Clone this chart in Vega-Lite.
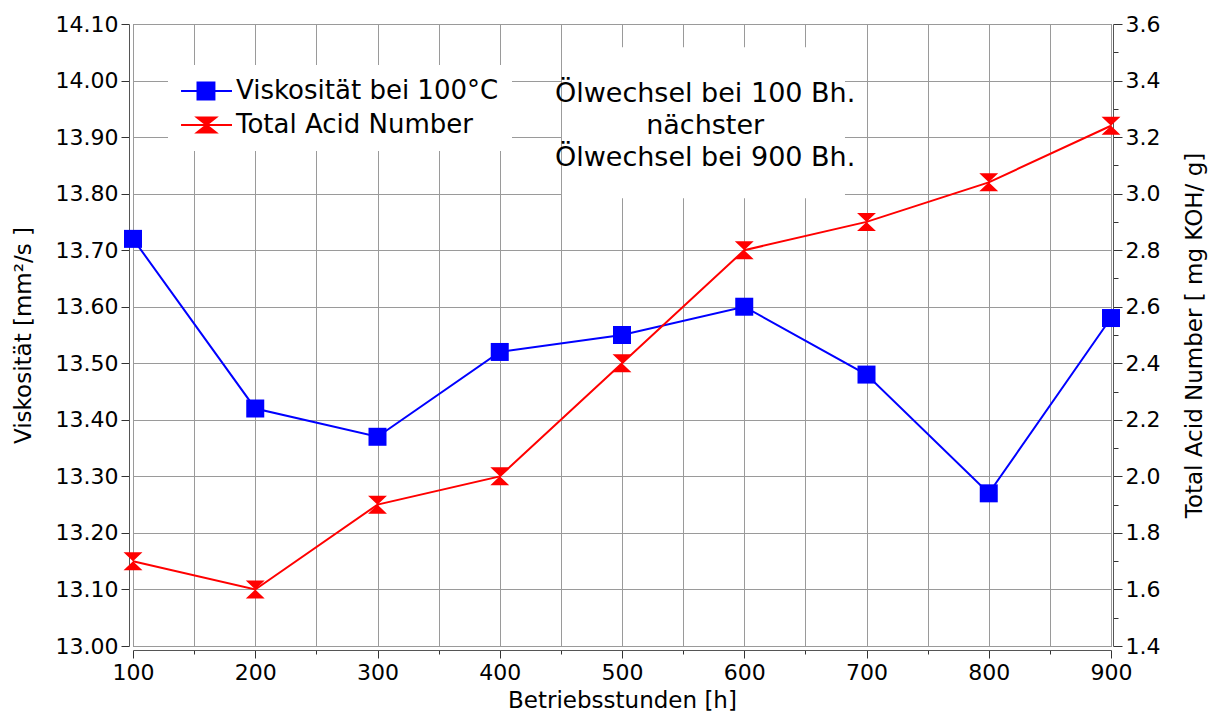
{
  "$schema": "https://vega.github.io/schema/vega-lite/v6.json",
  "width": 978,
  "height": 622,
  "autosize": {"type": "none"},
  "padding": {"left": 133, "top": 24, "right": 104, "bottom": 73},
  "background": "white",
  "config": {
    "font": "DejaVu Sans",
    "view": {"stroke": "#666666", "strokeWidth": 1},
    "axis": {
      "labelFont": "DejaVu Sans", "labelFontSize": 22, "labelColor": "#000000",
      "titleFont": "DejaVu Sans", "titleFontSize": 23, "titleFontWeight": "normal", "titleColor": "#000000",
      "domainColor": "#555555", "tickColor": "#333333", "gridColor": "#9a9a9a", "gridWidth": 1
    }
  },
  "datasets": {
    "oil": [
      {"h": 100, "series": "Viskosität bei 100°C", "value": 13.72},
      {"h": 200, "series": "Viskosität bei 100°C", "value": 13.42},
      {"h": 300, "series": "Viskosität bei 100°C", "value": 13.37},
      {"h": 400, "series": "Viskosität bei 100°C", "value": 13.52},
      {"h": 500, "series": "Viskosität bei 100°C", "value": 13.55},
      {"h": 600, "series": "Viskosität bei 100°C", "value": 13.60},
      {"h": 700, "series": "Viskosität bei 100°C", "value": 13.48},
      {"h": 800, "series": "Viskosität bei 100°C", "value": 13.27},
      {"h": 900, "series": "Viskosität bei 100°C", "value": 13.58},
      {"h": 100, "series": "Total Acid Number", "value": 1.70},
      {"h": 200, "series": "Total Acid Number", "value": 1.60},
      {"h": 300, "series": "Total Acid Number", "value": 1.90},
      {"h": 400, "series": "Total Acid Number", "value": 2.00},
      {"h": 500, "series": "Total Acid Number", "value": 2.40},
      {"h": 600, "series": "Total Acid Number", "value": 2.80},
      {"h": 700, "series": "Total Acid Number", "value": 2.90},
      {"h": 800, "series": "Total Acid Number", "value": 3.04},
      {"h": 900, "series": "Total Acid Number", "value": 3.24}
    ],
    "note": [
      {"label": ["Ölwechsel bei 100 Bh.", "nächster", "Ölwechsel bei 900 Bh."]}
    ]
  },
  "data": {"name": "oil"},
  "layer": [
    {
      "layer": [
        {
          "data": {"name": "note"},
          "mark": {"type": "rect", "fill": "#ffffff", "strokeWidth": 0},
          "encoding": {
            "x": {"datum": 450.9, "type": "quantitative", "scale": {"domain": [100, 900], "nice": false, "zero": false}},
            "x2": {"datum": 682.4},
            "y": {"datum": 14.059, "type": "quantitative", "scale": {"domain": [13.0, 14.1], "nice": false, "zero": false}},
            "y2": {"datum": 13.792}
          }
        },
        {
          "data": {"name": "note"},
          "mark": {
            "type": "text", "font": "DejaVu Sans", "fontSize": 27, "lineHeight": 32,
            "align": "center", "baseline": "middle", "fill": "#000000"
          },
          "encoding": {
            "x": {"datum": 568, "type": "quantitative"},
            "y": {"datum": 13.977, "type": "quantitative"},
            "text": {"field": "label"}
          }
        },
        {
          "transform": [{"filter": "datum.series === 'Viskosität bei 100°C'"}],
          "encoding": {
            "x": {
              "field": "h", "type": "quantitative",
              "scale": {"domain": [100, 900], "nice": false, "zero": false},
              "axis": {
                "title": "Betriebsstunden [h]",
                "values": [100, 150, 200, 250, 300, 350, 400, 450, 500, 550, 600, 650, 700, 750, 800, 850, 900],
                "labelExpr": "datum.value % 100 == 0 ? datum.label : ''",
                "grid": true, "offset": 4,
                "tickSize": {"condition": {"test": "datum.value % 100 == 0", "value": 8}, "value": 4},
                "labelPadding": 4, "titlePadding": 6, "labelFlush": false, "labelOverlap": false
              }
            },
            "y": {
              "field": "value", "type": "quantitative",
              "scale": {"domain": [13.0, 14.1], "nice": false, "zero": false},
              "axis": {
                "title": "Viskosität [mm²/s ]",
                "values": [13.0, 13.05, 13.1, 13.15, 13.2, 13.25, 13.3, 13.35, 13.4, 13.45, 13.5, 13.55, 13.6, 13.65, 13.7, 13.75, 13.8, 13.85, 13.9, 13.95, 14.0, 14.05, 14.1],
                "labelExpr": "round(datum.value*100) % 10 == 0 ? format(datum.value, '.2f') : ''",
                "grid": true,
                "gridOpacity": {"condition": {"test": "round(datum.value*100) % 10 == 0", "value": 1}, "value": 0},
                "tickSize": {"condition": {"test": "round(datum.value*100) % 10 == 0", "value": 8}, "value": 5},
                "offset": 4, "labelPadding": 3, "titlePadding": 20, "labelOverlap": false, "labelFlush": false
              }
            },
            "color": {
              "field": "series", "type": "nominal",
              "scale": {"domain": ["Viskosität bei 100°C", "Total Acid Number"], "range": ["#0000ff", "#ff0000"]},
              "legend": {
                "title": null, "orient": "none", "legendX": 35, "legendY": 41,
                "fillColor": "#ffffff", "padding": 13, "strokeColor": null,
                "labelFont": "DejaVu Sans", "labelFontSize": 26, "labelColor": "#000000", "labelLimit": 0,
                "symbolSize": 324, "symbolStrokeWidth": 2, "labelOffset": 29, "rowPadding": 8,
                "symbolType": "M-1.44,0 H4.22 M0.39,-0.94 H2.27 V0.94 H0.39 Z",
                "encode": {
                  "symbols": {
                    "update": {
                      "shape": [
                        {"test": "datum.value === 'Viskosität bei 100°C'", "value": "M-1.44,0 H4.22 M0.39,-0.94 H2.27 V0.94 H0.39 Z"},
                        {"value": "M-1.44,0 H4.22 M0.34,-0.83 H2.44 L1.39,0 L2.44,0.83 H0.34 L1.39,0 Z"}
                      ],
                      "fill": [{"test": "datum.value === 'Viskosität bei 100°C'", "value": "#0000ff"}, {"value": "#ff0000"}],
                      "stroke": [{"test": "datum.value === 'Viskosität bei 100°C'", "value": "#0000ff"}, {"value": "#ff0000"}],
                      "strokeWidth": {"value": 2},
                      "opacity": {"value": 1},
                      "fillOpacity": {"value": 1},
                      "strokeOpacity": {"value": 1}
                    }
                  }
                }
              }
            }
          },
          "layer": [
            {"mark": {"type": "line", "strokeWidth": 2}},
            {"mark": {"type": "point", "shape": "square", "size": 324, "filled": true, "opacity": 1}}
          ]
        }
      ]
    },
    {
      "transform": [{"filter": "datum.series === 'Total Acid Number'"}],
      "encoding": {
        "x": {"field": "h", "type": "quantitative"},
        "y": {
          "field": "value", "type": "quantitative",
          "scale": {"domain": [1.4, 3.6], "nice": false, "zero": false},
          "axis": {
            "orient": "right",
            "title": "Total Acid Number [  mg KOH/ g]",
            "values": [1.4, 1.5, 1.6, 1.7, 1.8, 1.9, 2.0, 2.1, 2.2, 2.3, 2.4, 2.5, 2.6, 2.7, 2.8, 2.9, 3.0, 3.1, 3.2, 3.3, 3.4, 3.5, 3.6],
            "labelExpr": "round(datum.value*10) % 2 == 0 ? format(datum.value, '.1f') : ''",
            "grid": false,
            "tickSize": {"condition": {"test": "round(datum.value*10) % 2 == 0", "value": 9}, "value": 5},
            "offset": 2, "labelPadding": 3, "titlePadding": 24, "titleAngle": 270, "titleBaseline": "top",
            "labelOverlap": false, "labelFlush": false
          }
        },
        "color": {"field": "series", "type": "nominal"}
      },
      "layer": [
        {"mark": {"type": "line", "strokeWidth": 2}},
        {"mark": {"type": "point", "shape": "M-1.05,-1 L1.05,-1 L0,0 L1.05,1 L-1.05,1 L0,0 Z", "size": 324, "filled": true, "opacity": 1}}
      ]
    }
  ],
  "resolve": {"scale": {"y": "independent"}}
}
